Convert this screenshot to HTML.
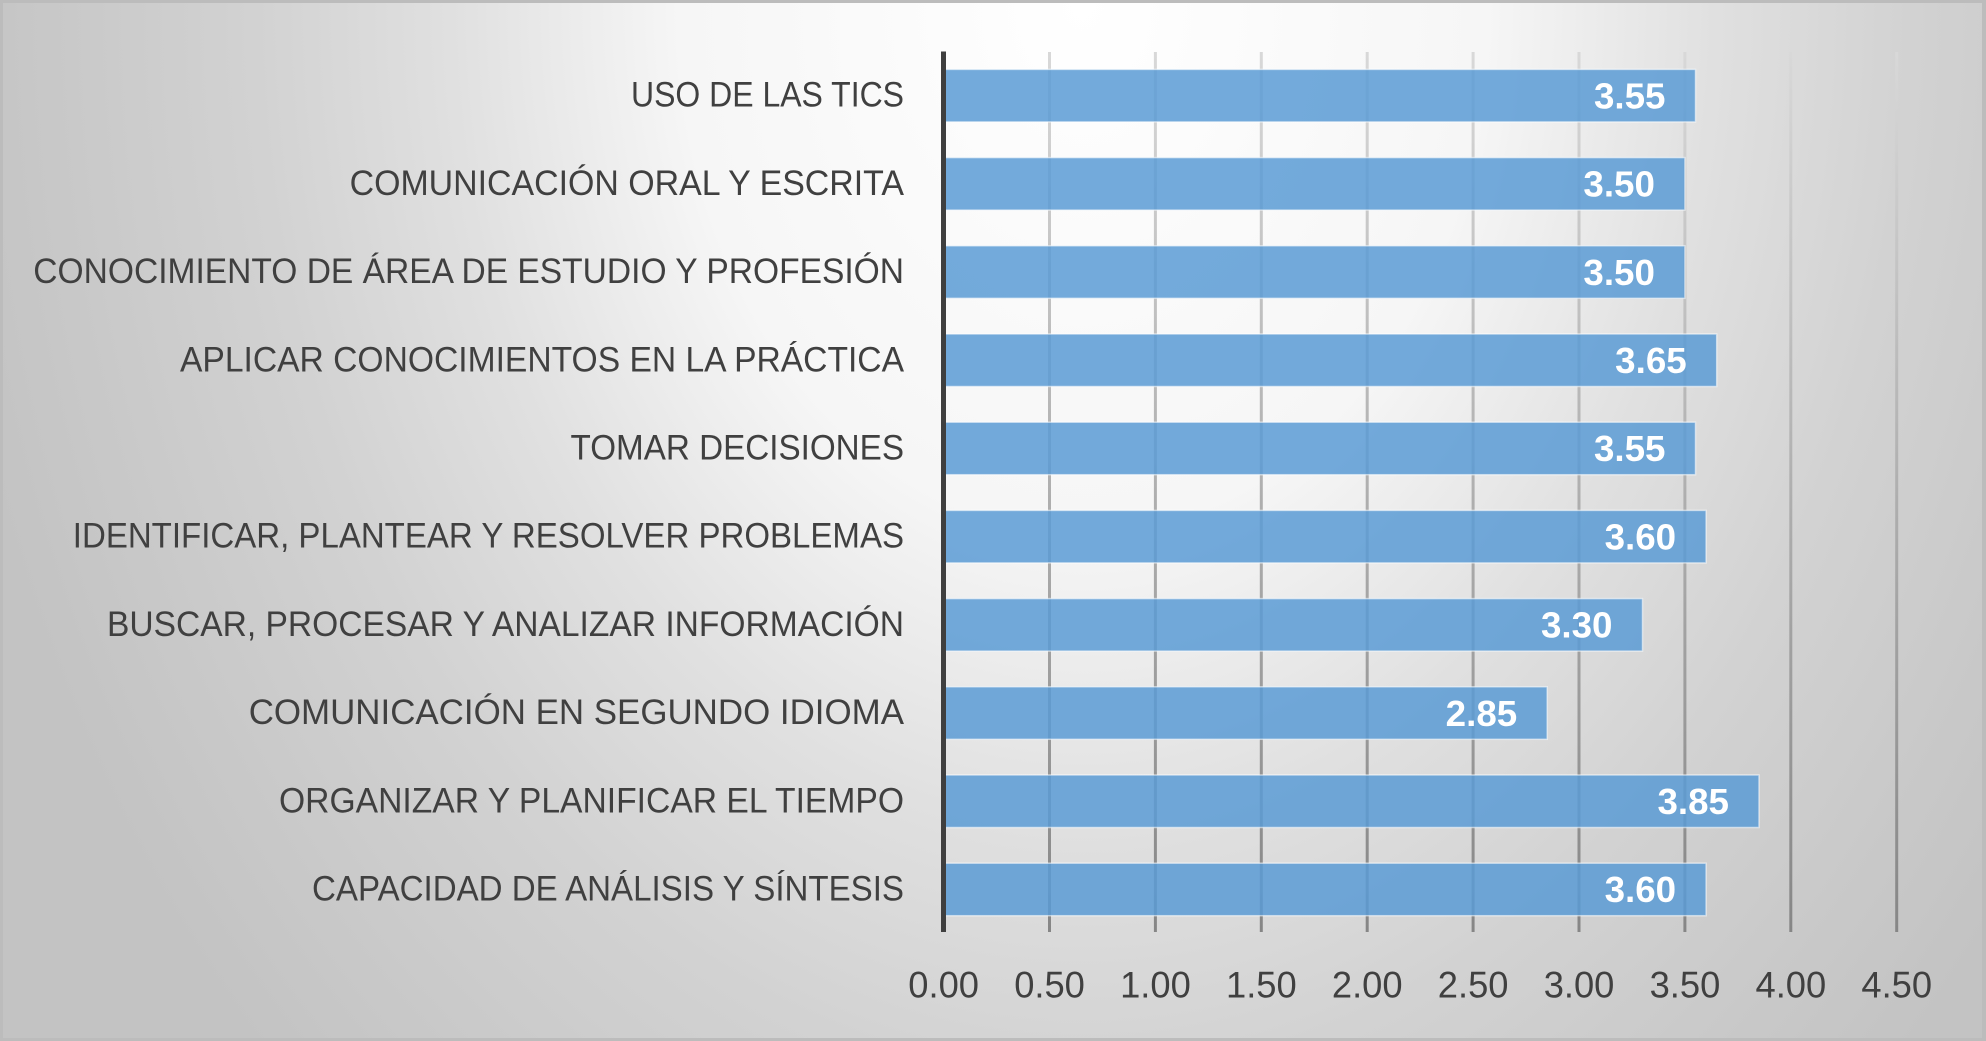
<!DOCTYPE html>
<html>
<head>
<meta charset="utf-8">
<style>
html,body{margin:0;padding:0;}
body{width:1986px;height:1041px;overflow:hidden;}
#wrap{position:relative;width:1986px;height:1041px;box-sizing:border-box;border:3px solid #bcbcbc;border-right-width:4px;
background:radial-gradient(ellipse 1150px 1500px at 1080px 0px,#ffffff 0%,#f6f6f6 35%,#e0e0e0 55%,#d2d2d2 72%,#c9c9c9 88%,#c3c3c3 100%);}
svg{position:absolute;left:0;top:0;}
text{font-family:"Liberation Sans",Arial,sans-serif;}
</style>
</head>
<body>
<div id="wrap"></div>
<svg width="1986" height="1041" viewBox="0 0 1986 1041" xmlns="http://www.w3.org/2000/svg">
<defs>
<linearGradient id="gl" gradientUnits="userSpaceOnUse" x1="0" y1="52" x2="0" y2="932">
<stop offset="0" stop-color="#d8d8d8"/>
<stop offset="1" stop-color="#868686"/>
</linearGradient>
</defs>
<!-- gridlines -->
<g stroke="url(#gl)" stroke-width="3">
<line x1="1049.5" y1="52" x2="1049.5" y2="932"/>
<line x1="1155.4" y1="52" x2="1155.4" y2="932"/>
<line x1="1261.3" y1="52" x2="1261.3" y2="932"/>
<line x1="1367.2" y1="52" x2="1367.2" y2="932"/>
<line x1="1473.1" y1="52" x2="1473.1" y2="932"/>
<line x1="1579.0" y1="52" x2="1579.0" y2="932"/>
<line x1="1684.9" y1="52" x2="1684.9" y2="932"/>
<line x1="1790.8" y1="52" x2="1790.8" y2="932"/>
<line x1="1896.7" y1="52" x2="1896.7" y2="932"/>
</g>
<!-- bars -->
<g fill="#5b9bd5" fill-opacity="0.85" stroke="#ffffff" stroke-opacity="0.55" stroke-width="1.5">
<rect x="943.6" y="69.4" width="751.9" height="52.5"/>
<rect x="943.6" y="157.6" width="741.3" height="52.5"/>
<rect x="943.6" y="245.8" width="741.3" height="52.5"/>
<rect x="943.6" y="334.0" width="773.1" height="52.5"/>
<rect x="943.6" y="422.2" width="751.9" height="52.5"/>
<rect x="943.6" y="510.4" width="762.5" height="52.5"/>
<rect x="943.6" y="598.6" width="698.9" height="52.5"/>
<rect x="943.6" y="686.8" width="603.6" height="52.5"/>
<rect x="943.6" y="775.0" width="815.4" height="52.5"/>
<rect x="943.6" y="863.2" width="762.5" height="52.5"/>
</g>
<!-- axis -->
<rect x="941" y="51.5" width="5" height="880.5" fill="#3f3f3f"/>
<!-- value labels -->
<g fill="#ffffff" font-weight="bold" font-size="36">
<text x="1594.0" y="108.4" textLength="71.5" lengthAdjust="spacingAndGlyphs">3.55</text>
<text x="1583.4" y="196.6" textLength="71.5" lengthAdjust="spacingAndGlyphs">3.50</text>
<text x="1583.4" y="284.8" textLength="71.5" lengthAdjust="spacingAndGlyphs">3.50</text>
<text x="1615.2" y="373.0" textLength="71.5" lengthAdjust="spacingAndGlyphs">3.65</text>
<text x="1594.0" y="461.2" textLength="71.5" lengthAdjust="spacingAndGlyphs">3.55</text>
<text x="1604.6" y="549.4" textLength="71.5" lengthAdjust="spacingAndGlyphs">3.60</text>
<text x="1541.0" y="637.6" textLength="71.5" lengthAdjust="spacingAndGlyphs">3.30</text>
<text x="1445.7" y="725.8" textLength="71.5" lengthAdjust="spacingAndGlyphs">2.85</text>
<text x="1657.5" y="814.0" textLength="71.5" lengthAdjust="spacingAndGlyphs">3.85</text>
<text x="1604.6" y="902.2" textLength="71.5" lengthAdjust="spacingAndGlyphs">3.60</text>
</g>
<!-- category labels -->
<g fill="#404040" font-size="35">
<text x="631" y="106.7" textLength="273" lengthAdjust="spacingAndGlyphs">USO DE LAS TICS</text>
<text x="349.6" y="194.9" textLength="554.4" lengthAdjust="spacingAndGlyphs">COMUNICACIÓN ORAL Y ESCRITA</text>
<text x="33.3" y="283.1" textLength="870.7" lengthAdjust="spacingAndGlyphs">CONOCIMIENTO DE ÁREA DE ESTUDIO Y PROFESIÓN</text>
<text x="180" y="371.3" textLength="724" lengthAdjust="spacingAndGlyphs">APLICAR CONOCIMIENTOS EN LA PRÁCTICA</text>
<text x="570.5" y="459.5" textLength="333.5" lengthAdjust="spacingAndGlyphs">TOMAR DECISIONES</text>
<text x="72.8" y="547.7" textLength="831.2" lengthAdjust="spacingAndGlyphs">IDENTIFICAR, PLANTEAR Y RESOLVER PROBLEMAS</text>
<text x="107" y="635.9" textLength="797" lengthAdjust="spacingAndGlyphs">BUSCAR, PROCESAR Y ANALIZAR INFORMACIÓN</text>
<text x="248.7" y="724.1" textLength="655.3" lengthAdjust="spacingAndGlyphs">COMUNICACIÓN EN SEGUNDO IDIOMA</text>
<text x="279" y="812.3" textLength="625" lengthAdjust="spacingAndGlyphs">ORGANIZAR Y PLANIFICAR EL TIEMPO</text>
<text x="312" y="900.5" textLength="592" lengthAdjust="spacingAndGlyphs">CAPACIDAD DE ANÁLISIS Y SÍNTESIS</text>
</g>
<!-- tick labels -->
<g fill="#404040" font-size="37">
<text x="908.3" y="997.7" textLength="70.7" lengthAdjust="spacingAndGlyphs">0.00</text>
<text x="1014.2" y="997.7" textLength="70.7" lengthAdjust="spacingAndGlyphs">0.50</text>
<text x="1120.1" y="997.7" textLength="70.7" lengthAdjust="spacingAndGlyphs">1.00</text>
<text x="1226.0" y="997.7" textLength="70.7" lengthAdjust="spacingAndGlyphs">1.50</text>
<text x="1331.9" y="997.7" textLength="70.7" lengthAdjust="spacingAndGlyphs">2.00</text>
<text x="1437.8" y="997.7" textLength="70.7" lengthAdjust="spacingAndGlyphs">2.50</text>
<text x="1543.7" y="997.7" textLength="70.7" lengthAdjust="spacingAndGlyphs">3.00</text>
<text x="1649.6" y="997.7" textLength="70.7" lengthAdjust="spacingAndGlyphs">3.50</text>
<text x="1755.5" y="997.7" textLength="70.7" lengthAdjust="spacingAndGlyphs">4.00</text>
<text x="1861.4" y="997.7" textLength="70.7" lengthAdjust="spacingAndGlyphs">4.50</text>
</g>
</svg>
</body>
</html>
